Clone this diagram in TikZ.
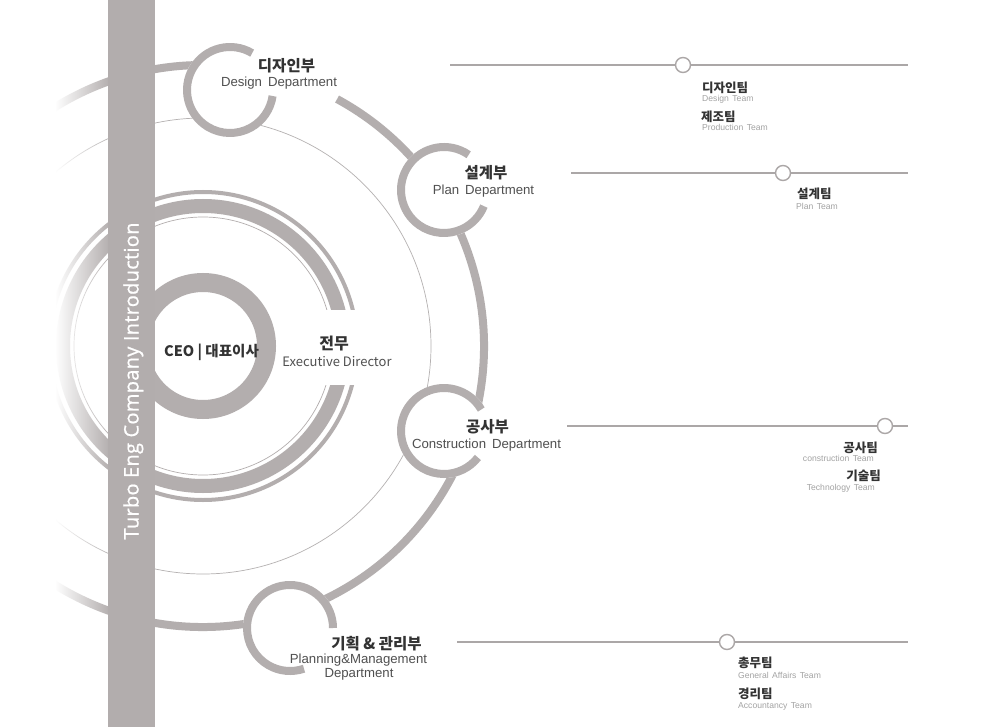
\documentclass[tikz,border=0pt]{standalone}
\usepackage{fontspec}
\newfontfamily\krfont{Noto Sans CJK KR}
\newfontfamily\enfont{Liberation Sans}
\newfontfamily\opfont{Open Sans}[LetterSpace=1.5,FakeBold=0.8]
\usetikzlibrary{fadings}
\definecolor{ringgray}{HTML}{B3AEAE}
\definecolor{bargray}{HTML}{B2ADAD}
\definecolor{linegray}{HTML}{ABA7A7}
\definecolor{thingray}{HTML}{B5B1B1}
\definecolor{titlecol}{HTML}{333333}
\definecolor{subcol}{HTML}{505050}
\definecolor{teamsub}{HTML}{A3A3A3}
\tikzfading[name=fadeleftwhite, left color=transparent!0, right color=transparent!100]
\begin{document}
\begin{tikzpicture}[x=1pt, y=1pt,
  ring/.style={draw=ringgray, line width=8},
  dcirc/.style={circle, fill=white, minimum size=94, inner sep=0},
  dtitle/.style={font=\krfont\bfseries\fontsize{15.5}{18}\selectfont, text=titlecol, inner sep=0, anchor=base},
  dsub/.style={font=\enfont\fontsize{13.2}{15}\selectfont, text=subcol, inner sep=0, anchor=base},
  ttitle/.style={font=\krfont\bfseries\fontsize{12.5}{14}\selectfont, text=titlecol, inner sep=0},
  tsub/.style={font=\enfont\fontsize{8.6}{10}\selectfont, text=teamsub, inner sep=0},
  tline/.style={draw=linegray, line width=2},
  tdot/.style={circle, draw=linegray, line width=1.4, fill=white, minimum size=15, inner sep=0},
]
\useasboundingbox (0,0) rectangle (1003,-727);
\fill[white] (0,0) rectangle (1003,-727);
\coordinate (C) at (203,-346);
% thin circle
\draw[thingray, line width=0.7] (C) circle[radius=228];
% executive ring
\draw[ringgray, line width=4] (C) circle[radius=154];
\draw[ringgray, line width=14] (C) circle[radius=140];
\draw[ringgray, line width=0.7] (C) circle[radius=129];
\fill[white] (292,-310) rectangle (365,-385);
% CEO ring
\draw[ringgray, line width=19] (C) circle[radius=63.5];
% big department circle
\draw[ringgray, line width=8] (C) ++(61.5:281) arc[start angle=61.5, end angle=-270, radius=281];
% department circles
\node[dcirc] (dsg) at (230,-90) {};
\node[dcirc] (pln) at (444,-190) {};
\node[dcirc] (cns) at (444,-431) {};
\node[dcirc] (mgt) at (290,-628) {};
\draw[ring] (dsg.center) ++(59:43) arc[start angle=59, end angle=352, radius=43];
\draw[ring] (pln.center) ++(55:43) arc[start angle=55, end angle=338, radius=43];
\draw[ring] (cns.center) ++(30:43) arc[start angle=30, end angle=322, radius=43];
\draw[ring] (mgt.center) ++(0:43) arc[start angle=0, end angle=289, radius=43];
% left fade
\fill[white] (0,0) rectangle (56,-727);
\fill[white, path fading=fadeleftwhite, fit fading=true] (55,0) rectangle (110,-727);
% bar
\node[fill=bargray, minimum width=47, minimum height=727, inner sep=0, anchor=north west] (bar) at (108,0) {};
\node[text=white, rotate=90, anchor=base, inner sep=0, font=\opfont\fontsize{20}{22}\selectfont] (vtext) at (138.5,-381) {Turbo Eng Company Introduction};
% department texts
\node[dtitle] (dsgT) at (286.5,-72) {디자인부};
\node[dsub] (dsgS) at (279,-86.5) {Design\hspace{0.45em}Department};
\node[dtitle] (plnT) at (486,-179) {설계부};
\node[dsub] (plnS) at (483.5,-195) {Plan\hspace{0.45em}Department};
\node[dtitle] (cnsT) at (487.5,-432) {공사부};
\node[dsub] (cnsS) at (486.5,-448) {Construction\hspace{0.45em}Department};
\node[dtitle] (mgtT) at (376.5,-649) {기획 \& 관리부};
\node[dsub] (mgtS) at (358.5,-663.5) {Planning\&Management};
\node[dsub] (mgtS2) at (359,-677.5) {Department};
\node[font=\krfont\bfseries\fontsize{14.5}{17}\selectfont, text=titlecol, inner sep=0, anchor=base] (ceo) at (211.5,-356) {CEO | 대표이사};
\node[font=\krfont\bfseries\fontsize{16}{18}\selectfont, text=titlecol, inner sep=0, anchor=base] (exT) at (334,-349) {전무};
\node[font=\krfont\fontsize{13}{15}\selectfont, text=subcol, inner sep=0, anchor=base] (exS) at (337,-366) {Executive Director};
% team lines
\coordinate (l1a) at (450,-65); \coordinate (l1b) at (908,-65);
\coordinate (l2a) at (571,-173); \coordinate (l2b) at (908,-173);
\coordinate (l3a) at (567,-426); \coordinate (l3b) at (908,-426);
\coordinate (l4a) at (457,-642); \coordinate (l4b) at (908,-642);
\node[tdot] (d1) at (683,-65) {};
\node[tdot] (d2) at (783,-173) {};
\node[tdot] (d3) at (885,-426) {};
\node[tdot] (d4) at (727,-642) {};
\draw[tline] (l1a) -- (d1); \draw[tline] (d1) -- (l1b);
\draw[tline] (l2a) -- (d2); \draw[tline] (d2) -- (l2b);
\draw[tline] (l3a) -- (d3); \draw[tline] (d3) -- (l3b);
\draw[tline] (l4a) -- (d4); \draw[tline] (d4) -- (l4b);
% team texts
\node[ttitle, anchor=base west] (t1) at (702,-92.5) {디자인팀};
\node[tsub, anchor=base west] (t1s) at (702,-101.5) {Design\hspace{0.4em}Team};
\node[ttitle, anchor=base west] (t2) at (701,-122) {제조팀};
\node[tsub, anchor=base west] (t2s) at (702,-130.5) {Production\hspace{0.4em}Team};
\node[ttitle, anchor=base west] (t3) at (797,-199) {설계팀};
\node[tsub, anchor=base west] (t3s) at (796,-209.5) {Plan\hspace{0.4em}Team};
\node[ttitle, anchor=base east] (t4) at (878,-452) {공사팀};
\node[tsub, anchor=base east] (t4s) at (874,-461.5) {construction\hspace{0.4em}Team};
\node[ttitle, anchor=base east] (t5) at (881,-480.5) {기술팀};
\node[tsub, anchor=base east] (t5s) at (875,-490) {Technology\hspace{0.4em}Team};
\node[ttitle, anchor=base west] (t6) at (738,-667) {총무팀};
\node[tsub, anchor=base west] (t6s) at (738,-678.5) {General\hspace{0.4em}Affairs\hspace{0.4em}Team};
\node[ttitle, anchor=base west] (t7) at (738,-698) {경리팀};
\node[tsub, anchor=base west] (t7s) at (738,-708) {Accountancy\hspace{0.4em}Team};
\end{tikzpicture}
\end{document}
